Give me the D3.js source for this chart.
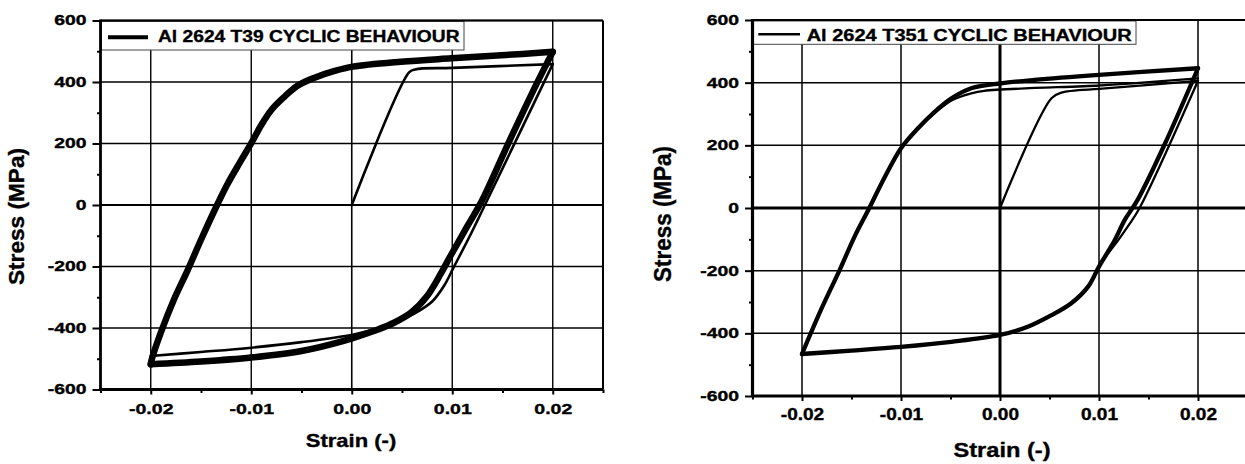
<!DOCTYPE html>
<html><head><meta charset="utf-8">
<script src="https://cdn.jsdelivr.net/npm/d3@7"></script>
<style>
html,body{margin:0;padding:0;background:#fff;}
svg{display:block;}
text{font-family:"Liberation Sans",Arial,sans-serif;font-weight:bold;fill:#000;stroke:#000;stroke-width:0.35px;}
</style>
</head><body>
<svg id="c" width="1245" height="464"></svg>
<script>
// ---------- data ----------
const strainTicks = [-0.02, -0.01, 0, 0.01, 0.02];
const strainMinor = [-0.025, -0.015, -0.005, 0.005, 0.015, 0.025];
const stressTicks = [-600, -400, -200, 0, 200, 400, 600];
const stressMinor = [-500, -300, -100, 100, 300, 500];

const t39Legend = "Al 2624 T39 CYCLIC BEHAVIOUR";
const t351Legend = "Al 2624 T351 CYCLIC BEHAVIOUR";
const xTitle = "Strain (-)";
const yTitle = "Stress (MPa)";

// Al 2624 T39 (strain, stress MPa)
const t39Loading = [[0,0],[0.0057,431],[0.0063,441],[0.0100,446],[0.0200,458]];
const t39FirstDown = [[0.0200,458],[0.0135,17],[0.0119,-91],[0.0102,-199],[0.0092,-262],[0.0080,-314],[0.0064,-350],[0.0046,-378],[0.0025,-402],[0.0002,-421],[-0.0050,-446],[-0.0100,-464],[-0.0150,-478],[-0.0200,-491]];
const t39CycleUp = [[-0.0200,-518],[-0.0199,-502],[-0.0190,-415],[-0.0177,-308],[-0.0163,-210],[-0.0150,-113],[-0.0134,0],[-0.0124,66],[-0.0111,140],[-0.0100,201],[-0.0090,260],[-0.0080,309],[-0.0067,352],[-0.0054,388],[-0.0037,414],[-0.0017,436],[0.0001,450],[0.0049,466],[0.0099,477],[0.0149,487],[0.0200,498]];
const t39CycleDown = [[0.0200,498],[0.0185,401],[0.0155,195],[0.0130,17],[0.0115,-69],[0.0099,-161],[0.0089,-221],[0.0075,-296],[0.0059,-350],[0.0042,-383],[0.0026,-405],[0.0009,-424],[-0.0008,-442],[-0.0050,-475],[-0.0100,-496],[-0.0150,-509],[-0.0200,-518]];

// Al 2624 T351 (strain, stress MPa)
const t351Loading = [[0,0],[0.0052,350],[0.0063,369],[0.0079,376],[0.0100,380],[0.0200,406]];
const t351FirstDown = [[0.0200,406],[0.0141,0],[0.0130,-55],[0.0120,-100],[0.0108,-150],[0.0100,-187],[0.0089,-251],[0.0072,-304],[0.0052,-342],[0.0028,-379],[0.0000,-405],[-0.0049,-427],[-0.0100,-443],[-0.0150,-455],[-0.0200,-464]];
const t351FirstUp = [[-0.0200,-464],[-0.0181,-326],[-0.0162,-198],[-0.0147,-92],[-0.0132,0],[-0.0117,95],[-0.0100,191],[-0.0083,254],[-0.0066,303],[-0.0049,343],[-0.0029,366],[-0.0016,374],[0.0100,391],[0.0134,398],[0.0200,414]];
const t351CycleUp = [[-0.0200,-466],[-0.0181,-326],[-0.0162,-198],[-0.0147,-92],[-0.0132,0],[-0.0117,95],[-0.0100,191],[-0.0083,254],[-0.0066,307],[-0.0049,350],[-0.0029,382],[0.0001,398],[0.0035,409],[0.0100,425],[0.0200,446]];
const t351CycleDown = [[0.0200,446],[0.0166,201],[0.0139,26],[0.0126,-38],[0.0116,-102],[0.0100,-187],[0.0089,-251],[0.0072,-304],[0.0052,-342],[0.0028,-379],[0.0000,-405],[-0.0049,-427],[-0.0100,-443],[-0.0150,-455],[-0.0200,-466]];

// ---------- drawing ----------
const svg = d3.select("#c");

function stretch(sel, sx){
  sel.each(function(){
    const w = this.getComputedTextLength();
    d3.select(this).attr("textLength", w*sx).attr("lengthAdjust","spacingAndGlyphs");
  });
}
const fmtX = d => (d < 0 ? "-" : "") + Math.abs(d).toFixed(2);
const fmtY = d => (d < 0 ? "-" : "") + Math.abs(d);

function drawChart(c){
  const x = d3.scaleLinear().domain([-0.025, 0.025]).range([c.x0, c.x1]);
  const y = d3.scaleLinear().domain([-600, 600]).range([c.y0, c.y1]);
  const g = svg.append("g");

  // grid
  g.selectAll(".vg").data(strainTicks).join("line")
    .attr("x1", d=>x(d)).attr("x2", d=>x(d)).attr("y1", y(600)).attr("y2", y(-600))
    .attr("stroke","#000").attr("stroke-width", d=> d===0 ? c.zeroVW : c.gridW);
  g.selectAll(".hg").data(stressTicks).join("line")
    .attr("y1", d=>y(d)).attr("y2", d=>y(d)).attr("x1", x(-0.025)).attr("x2", x(0.025))
    .attr("stroke","#000").attr("stroke-width", d=> d===0 ? c.zeroHW : c.gridW);

  // legend box (covers grid)
  g.append("rect").attr("x", c.leg.x).attr("y", c.leg.y).attr("width", c.leg.w).attr("height", c.leg.h)
    .attr("fill","#fff").attr("stroke","#444").attr("stroke-width",1);
  g.append("line").attr("x1", c.leg.lx0).attr("x2", c.leg.lx1).attr("y1", c.leg.ly).attr("y2", c.leg.ly)
    .attr("stroke","#000").attr("stroke-width", c.leg.lw);
  g.append("text").attr("x", c.leg.tx).attr("y", c.leg.ty).attr("font-size", c.leg.fs)
    .attr("textLength", c.leg.tl).attr("lengthAdjust","spacingAndGlyphs").text(c.legend);

  // frame
  g.append("line").attr("x1", x(-0.025)).attr("x2", x(0.025)).attr("y1", y(600)).attr("y2", y(600))
    .attr("stroke","#000").attr("stroke-width", c.topW);
  g.append("line").attr("x1", x(0.025)).attr("x2", x(0.025)).attr("y1", y(600)).attr("y2", y(-600))
    .attr("stroke","#000").attr("stroke-width", c.topW);

  // curves
  const line = d3.line().x(d=>x(d[0])).y(d=>y(d[1])).curve(d3.curveCatmullRom.alpha(0.5));
  c.thin.forEach(arr => g.append("path").attr("d", line(arr)).attr("fill","none")
    .attr("stroke","#000").attr("stroke-width", c.thinW).attr("stroke-linejoin","round").attr("stroke-linecap","round"));
  c.thick.forEach(arr => g.append("path").attr("d", line(arr)).attr("fill","none")
    .attr("stroke","#000").attr("stroke-width", c.thickW).attr("stroke-linejoin","round").attr("stroke-linecap","round"));

  // axes
  const ax = g.append("g").attr("transform", `translate(${c.x0},0)`);
  ax.call(d3.axisLeft(y).tickValues(stressTicks).tickSize(c.yTick).tickPadding(c.yPad).tickFormat(fmtY));
  const axm = g.append("g").attr("transform", `translate(${c.x0},0)`);
  axm.call(d3.axisLeft(y).tickValues(stressMinor).tickSize(3.5).tickFormat(""));
  const bx = g.append("g").attr("transform", `translate(0,${c.y0})`);
  bx.call(d3.axisBottom(x).tickValues(strainTicks).tickSize(5).tickPadding(c.xPad).tickFormat(fmtX));
  const bxm = g.append("g").attr("transform", `translate(0,${c.y0})`);
  bxm.call(d3.axisBottom(x).tickValues(strainMinor).tickSize(3.5).tickFormat(""));
  [ax, axm, bx, bxm].forEach(a => {
    a.select(".domain").remove();
    a.selectAll(".tick line").attr("stroke","#000").attr("stroke-width", c.tickW);
    a.selectAll("text").attr("font-family", null).attr("font-size", null).attr("fill","#000");
  });
  ax.selectAll("text").attr("font-size", c.yfs).call(stretch, c.ysx);
  bx.selectAll("text").attr("font-size", c.xfs).call(stretch, c.xsx);

  // axis lines
  g.append("line").attr("x1", c.x0).attr("x2", c.x0).attr("y1", y(600)-1).attr("y2", c.y0+1)
    .attr("stroke","#000").attr("stroke-width", c.axisW);
  g.append("line").attr("x1", c.x0-1).attr("x2", x(0.025)).attr("y1", c.y0).attr("y2", c.y0)
    .attr("stroke","#000").attr("stroke-width", c.axisW);

  // titles
  g.append("text").attr("x", c.xt.x).attr("y", c.xt.y).attr("font-size", c.xt.fs)
    .attr("text-anchor","middle").attr("textLength", c.xt.tl).attr("lengthAdjust","spacingAndGlyphs").text(xTitle);
  g.append("text").attr("transform", `translate(${c.yt.x},${c.yt.y}) rotate(-90)`).attr("font-size", c.yt.fs)
    .attr("text-anchor","middle").attr("textLength", c.yt.tl).attr("lengthAdjust","spacingAndGlyphs").text(yTitle);
}

drawChart({
  x0:100.5, x1:603, y0:389.5, y1:20.5,
  gridW:1.4, zeroVW:1.6, zeroHW:2.2, topW:2, axisW:2.8, tickW:2,
  yTick:8, yPad:6, xPad:8.5, yfs:14, ysx:1.38, xfs:15, xsx:1.3,
  thin:[t39Loading, t39FirstDown], thick:[t39CycleUp, t39CycleDown], thinW:2.6, thickW:6.5,
  legend:t39Legend,
  leg:{x:101.5, y:21.5, w:362.5, h:28.5, lx0:108, lx1:148, ly:37.3, lw:4, tx:158, ty:41.8, fs:16, tl:301.5},
  xt:{x:351, y:446.5, fs:18.5, tl:90.5},
  yt:{x:24, y:216.5, fs:22, tl:137}
});

drawChart({
  x0:752.5, x1:1247.5, y0:396, y1:20,
  gridW:1.5, zeroVW:3, zeroHW:3, topW:2, axisW:3.2, tickW:2,
  yTick:7.5, yPad:6, xPad:7.6, yfs:14, ysx:1.38, xfs:16, xsx:1.19,
  thin:[t351Loading, t351FirstDown, t351FirstUp], thick:[t351CycleUp, t351CycleDown], thinW:2.3, thickW:4.3,
  legend:t351Legend,
  leg:{x:753.5, y:21, w:382.5, h:23.3, lx0:758.3, lx1:800, ly:34.3, lw:2.4, tx:806.7, ty:40.7, fs:16, tl:325},
  xt:{x:1002, y:457, fs:19.5, tl:97},
  yt:{x:671, y:214, fs:23, tl:136}
});
</script>
</body></html>
